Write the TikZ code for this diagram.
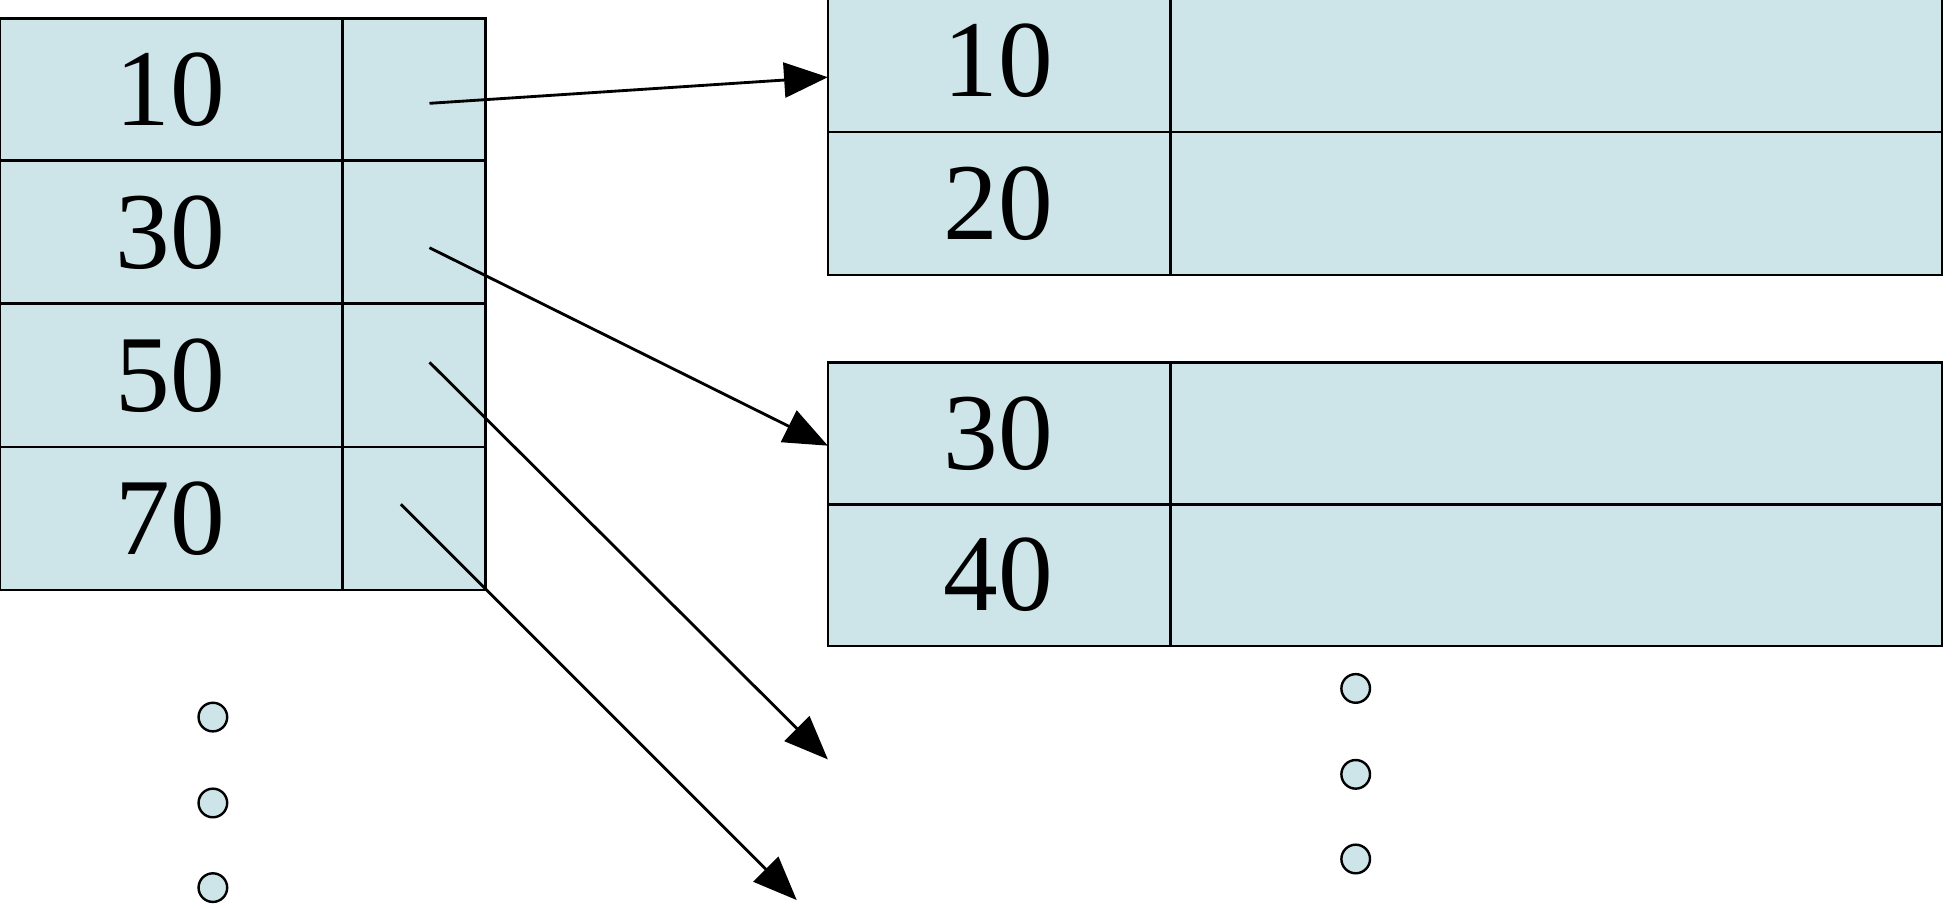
\documentclass[tikz,border=0pt]{standalone}
\usepackage{fontspec}
\setmainfont{Liberation Serif}
\usetikzlibrary{arrows.meta}
\definecolor{cellc}{HTML}{CDE5E9}
\begin{document}
\begin{tikzpicture}[x=0.02cm,y=-0.02cm,
  cell/.style={draw=black,line width=1.2pt,fill=cellc},
  num/.style={font=\fontsize{50}{50}\selectfont,inner sep=0pt},
  ptr/.style={draw=black,line width=1.3pt,-{Triangle[length=20pt,width=16pt]}},
  dot/.style={circle,draw=black,line width=1.1pt,fill=cellc,minimum size=22\pgflinewidth,inner sep=0pt}]
\useasboundingbox (0,0) rectangle (1568,730);
% left index
\foreach \t/\b/\v [count=\i] in {15/129/10,129/244/30,244/359/50,359/474/70}{
  \draw[cell] (0,\t) rectangle (275,\b);
  \draw[cell] (275,\t) rectangle (390,\b);
  \node[num] (L\i) at (137,{(\t+\b)/2}) {\v};
}
% right blocks
\foreach \t/\b/\v [count=\i] in {-9/106/10,106/221/20,291/405/30,405/519/40}{
  \draw[cell] (665,\t) rectangle (940,\b);
  \draw[cell] (940,\t) rectangle (1560,\b);
  \node[num] (R\i) at (802,{(\t+\b)/2}) {\v};
}
\coordinate (s1) at (345,83);  \coordinate (e1) at (665,62);
\coordinate (s2) at (345,199); \coordinate (e2) at (665,358);
\coordinate (s3) at (345,291); \coordinate (e3) at (665,610);
\coordinate (s4) at (322,405); \coordinate (e4) at (640,723);
\foreach \i in {1,2,3,4}{\draw[ptr] (s\i) -- (e\i);}
\foreach \y [count=\i] in {576,645,713}{\node[dot,minimum size=0.46cm] (dl\i) at (171,\y) {};}
\foreach \y [count=\i] in {553,622,690}{\node[dot,minimum size=0.46cm] (dr\i) at (1089,\y) {};}
\end{tikzpicture}
\end{document}
